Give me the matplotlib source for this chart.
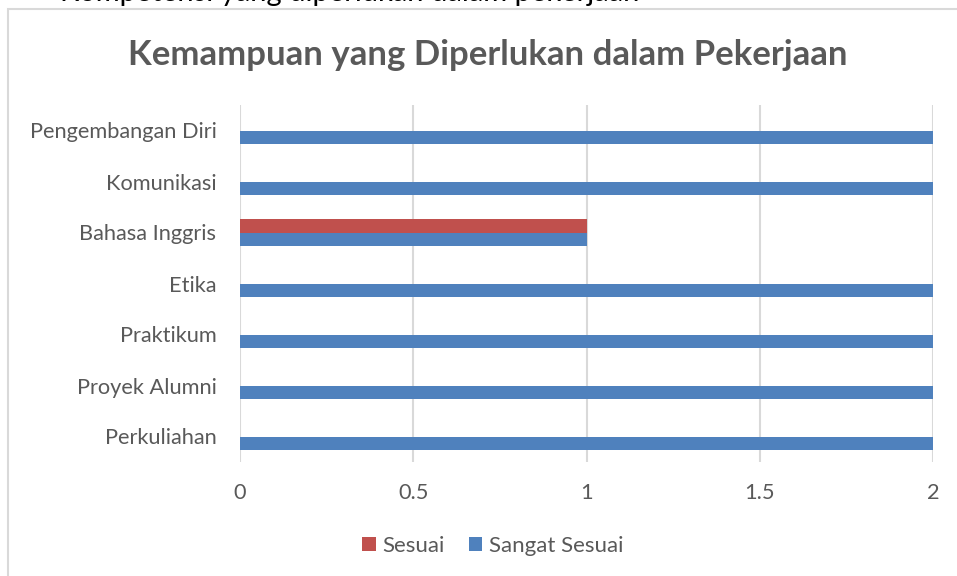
import matplotlib.pyplot as plt
from matplotlib.patches import Rectangle

kategori = ['Perkuliahan', 'Proyek Alumni', 'Praktikum', 'Etika',
            'Bahasa Inggris', 'Komunikasi', 'Pengembangan Diri']
sesuai = [0, 0, 0, 0, 1, 0, 0]
sangat_sesuai = [2, 2, 2, 2, 1, 2, 2]
xticks = [0, 0.5, 1, 1.5, 2]
xtick_labels = ['0', '0.5', '1', '1.5', '2']

MERAH = '#C0504D'
BIRU = '#4F81BD'
ABU = '#595959'
GRID = '#D9D9D9'

plt.rcParams['font.family'] = ['Lato', 'DejaVu Sans']

fig = plt.figure(figsize=(9.57, 5.76), dpi=100)

# bingkai grafik (terpotong di kanan dan bawah)
fig.patches.append(Rectangle((8 / 957, -0.1), 1.2, 1 - 9 / 576 + 0.1,
                             transform=fig.transFigure, fill=False,
                             edgecolor=GRID, linewidth=1.5))

# teks dokumen di atas yang terpotong
fig.text(60 / 957, 1 - 0.5 / 576, 'Kompetensi yang diperlukan dalam pekerjaan',
         fontsize=21, color='black', va='baseline', ha='left')

ax = fig.add_axes([240 / 957, 1 - 462 / 576, 693 / 957, 357 / 576])

y = list(range(len(kategori)))
tinggi = 0.26
ax.barh([v + tinggi / 2 for v in y], sesuai, height=tinggi, color=MERAH,
        label='Sesuai', zorder=3)
ax.barh([v - tinggi / 2 for v in y], sangat_sesuai, height=tinggi, color=BIRU,
        label='Sangat Sesuai', zorder=3)

ax.set_xlim(0, 2)
ax.set_ylim(-0.5, len(kategori) - 0.5)
ax.set_yticks(y)
ax.set_yticklabels(kategori)
ax.set_xticks(xticks)
ax.set_xticklabels(xtick_labels)
ax.tick_params(axis='both', length=0, labelsize=15.7, colors=ABU)
ax.tick_params(axis='y', pad=17)
ax.tick_params(axis='x', pad=15)
ax.grid(axis='x', color=GRID, linewidth=1.5, zorder=0)
for s in ax.spines.values():
    s.set_visible(False)

fig.text(488 / 957, 1 - 55 / 576, 'Kemampuan yang Diperlukan dalam Pekerjaan',
         fontsize=25, fontweight='bold', color=ABU, ha='center', va='center')

ax.legend(loc='center', bbox_to_anchor=(493 / 957, 1 - 546 / 576),
          bbox_transform=fig.transFigure, ncol=2, frameon=False,
          fontsize=16, labelcolor=ABU, handlelength=0.6, handleheight=0.6,
          columnspacing=1.1, handletextpad=0.3)

fig.savefig('out.png', dpi=100)
